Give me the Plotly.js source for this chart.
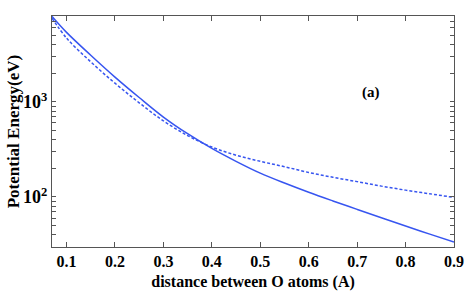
<!DOCTYPE html>
<html>
<head>
<meta charset="utf-8">
<script src="https://cdn.plot.ly/plotly-3.0.1.min.js"></script>
<style>html,body{margin:0;padding:0;background:#fff;}#chart{width:469px;height:300px;}</style>
</head>
<body>
<div id="chart"></div>
<script>
// distance between O atoms (A)
const xDist = [0.07, 0.1, 0.15, 0.2, 0.25, 0.3, 0.35, 0.4, 0.45, 0.5, 0.55, 0.6, 0.65, 0.7, 0.75, 0.8, 0.85, 0.9];
// potential energy (eV), solid curve
const ySolid = [7910, 5370, 3090, 1820, 1110, 692, 462, 324, 237, 178, 140, 112, 90.8, 74.1, 60.5, 49.5, 40.7, 33.6];
// potential energy (eV), dashed curve
const yDashed = [7590, 4680, 2630, 1570, 977, 631, 442, 335, 275, 237, 208, 181, 161, 145, 130, 118, 108, 98.9];
const xTickVals = [0.1, 0.2, 0.3, 0.4, 0.5, 0.6, 0.7, 0.8, 0.9];
const xTickText = ['0.1', '0.2', '0.3', '0.4', '0.5', '0.6', '0.7', '0.8', '0.9'];
const yTickVals = [40, 50, 60, 70, 80, 90, 100, 200, 300, 400, 500, 600, 700, 800, 900, 1000, 2000, 3000, 4000, 5000, 6000, 7000];
const yTickText = ['', '', '', '', '', '', '10<sup>2</sup>', '', '', '', '', '', '', '', '', '10<sup>3</sup>', '', '', '', '', '', ''];

const blue = 'rgb(55,85,240)';
const serif = 'Liberation Serif, Times New Roman, serif';
const yRange = [Math.log10(29.8), Math.log10(7980)];

const traces = [
  {x: xDist, y: ySolid, type: 'scatter', mode: 'lines',
   line: {color: blue, width: 1.5, shape: 'spline', smoothing: 1}, showlegend: false},
  {x: xDist, y: yDashed, type: 'scatter', mode: 'lines',
   line: {color: blue, width: 1.5, dash: '3px,2px', shape: 'spline', smoothing: 1}, showlegend: false}
];

const axisCommon = {
  showline: true, linecolor: '#555', linewidth: 1, mirror: 'ticks',
  ticks: 'inside', tickcolor: '#555', ticklen: 5, tickwidth: 1,
  showgrid: false, zeroline: false,
  tickfont: {family: serif, size: 16, color: '#000', weight: 'bold'}
};

const layout = {
  width: 469, height: 300,
  margin: {l: 52, r: 15, t: 16, b: 53},
  paper_bgcolor: '#fff', plot_bgcolor: '#fff',
  xaxis: Object.assign({}, axisCommon, {
    range: [0.07, 0.9], tickmode: 'array', tickvals: xTickVals, ticktext: xTickText,
    title: {text: 'distance between O atoms (A)', standoff: 6,
            font: {family: serif, size: 16, color: '#000', weight: 'bold'}}
  }),
  yaxis: Object.assign({}, axisCommon, {
    type: 'log', range: yRange, tickmode: 'array', tickvals: yTickVals, ticktext: yTickText,
    ticklen: 4,
    tickfont: {family: serif, size: 18, color: '#000', weight: 'bold'}
  }),
  annotations: [
    {text: '(a)', xref: 'paper', yref: 'paper', x: 0.82, y: 0.716,
     showarrow: false, font: {family: serif, size: 15, color: '#000', weight: 'bold'}},
    {text: 'Potential Energy(eV)', xref: 'paper', yref: 'paper', x: -0.095, y: 0.5,
     xanchor: 'center', yanchor: 'middle', textangle: -90, showarrow: false,
     font: {family: serif, size: 17, color: '#000', weight: 'bold'}}
  ]
};

Plotly.newPlot('chart', traces, layout, {staticPlot: true, displayModeBar: false});
</script>
</body>
</html>
